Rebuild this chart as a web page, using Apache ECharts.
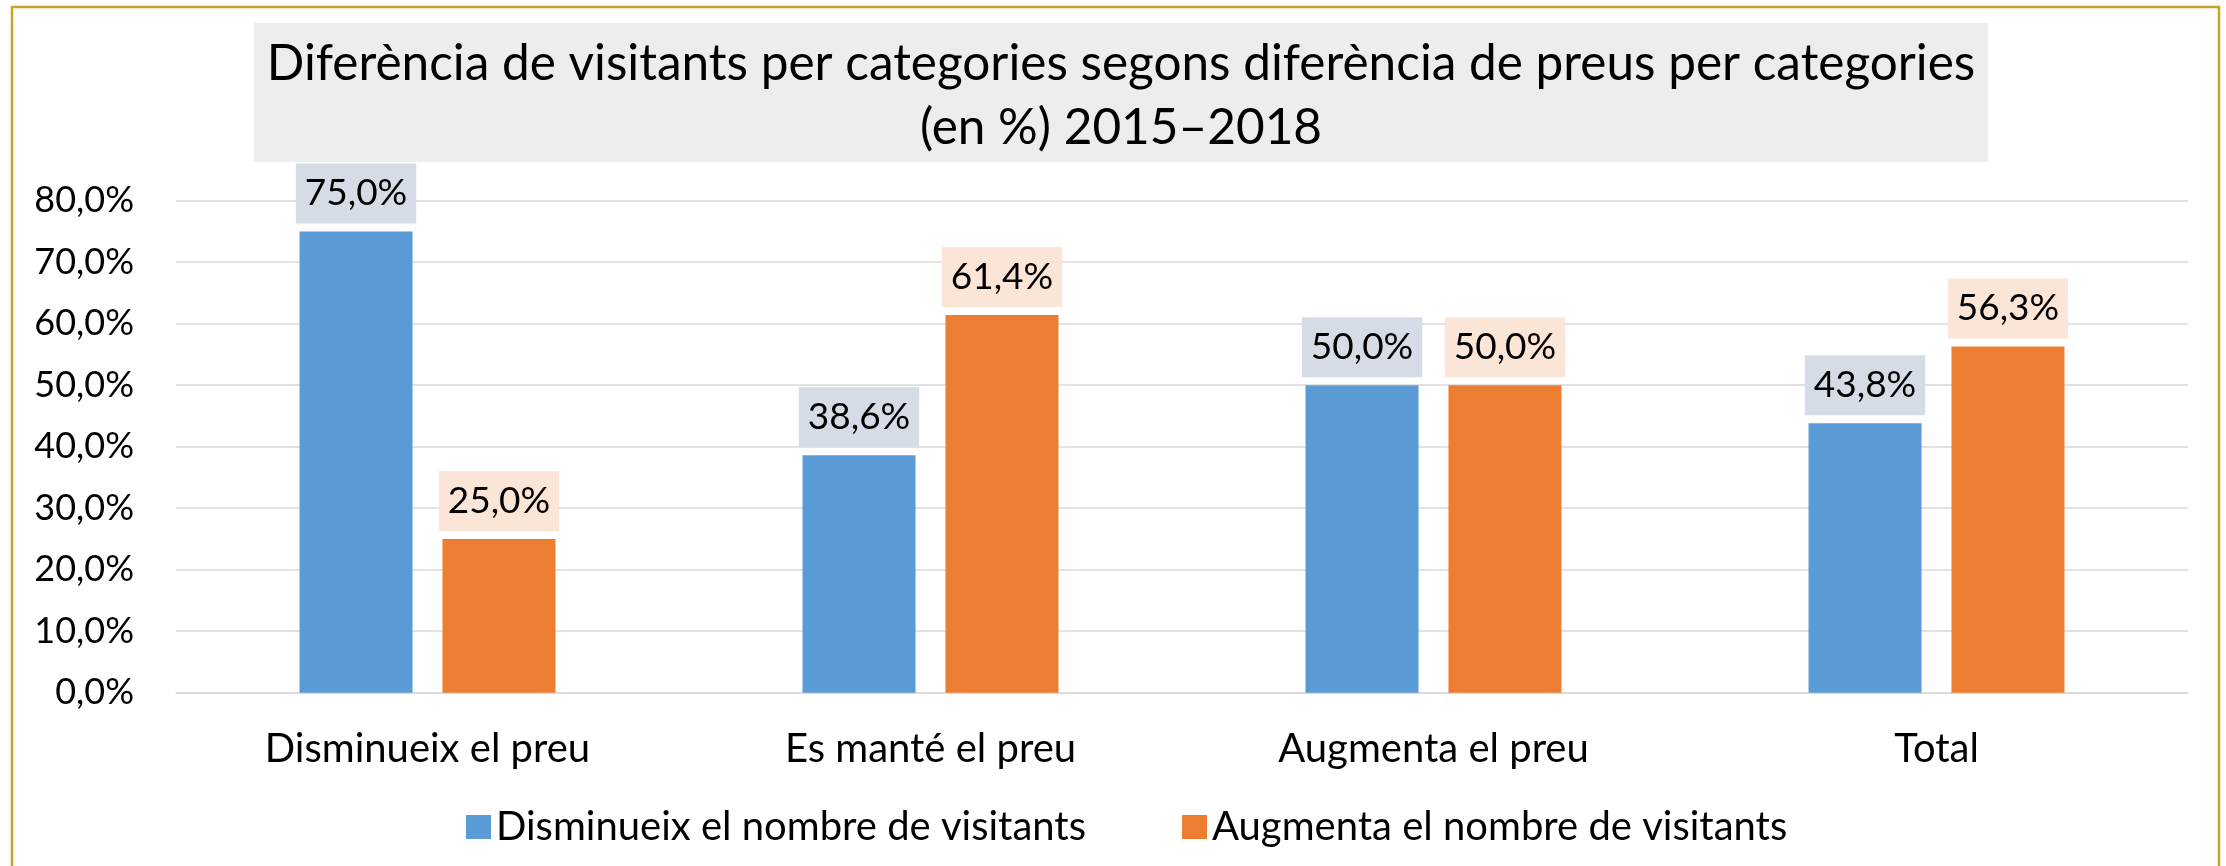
<!DOCTYPE html>
<html>
<head>
<meta charset="utf-8">
<script src="https://cdn.jsdelivr.net/npm/echarts@6/dist/echarts.min.js"></script>
<style>
    html, body { margin: 0; padding: 0; background: #fff; }
    #chart { width: 2226px; height: 866px; }
</style>
</head>
<body>
<div id="chart"></div>
<script>
    // categories and values (percent)
    var categories = ["Disminueix el preu", "Es manté el preu", "Augmenta el preu", "Total"];
    var seriesNames = ["Disminueix el nombre de visitants", "Augmenta el nombre de visitants"];
    var decreaseValues = [75.0, 38.6, 50.0, 43.8];
    var increaseValues = [25.0, 61.4, 50.0, 56.3];
    var yTicks = { min: 0, max: 80, interval: 10 };

    var font = "Lato";

    function pct(v) {
        return v.toFixed(1).replace(".", ",") + "%";
    }

    var chart = echarts.init(document.getElementById("chart"), null, { renderer: "canvas" });

    var labelBase = {
        show: true,
        position: "top",
        distance: 8,
        color: "#000",
        fontFamily: font,
        fontSize: 37,
        lineHeight: 40,
        padding: [10, 9, 10, 9],
        formatter: function (p) { return pct(p.value); }
    };

    var option = {
        animation: false,
        backgroundColor: "#fff",
        textStyle: { fontFamily: font },
        title: {
            text: "Diferència de visitants per categories segons diferència de preus per categories\n(en %) 2015–2018",
            // with textAlign center, left works as the centre of the box
            left: 1108,
            textAlign: "center",
            top: 23,
            backgroundColor: "#ededed",
            padding: [9, 13, 2, 13],
            textStyle: {
                fontFamily: font,
                fontSize: 49.5,
                lineHeight: 64,
                fontWeight: "normal",
                color: "#000"
            }
        },
        legend: {
            data: seriesNames,
            left: 461,
            top: 802,
            icon: "rect",
            itemWidth: 25,
            itemHeight: 24,
            itemGap: 96,
            textStyle: {
                fontFamily: font,
                fontSize: 40,
                lineHeight: 40,
                color: "#000"
            }
        },
        grid: {
            left: 176,
            right: 38,
            top: 200.7,
            bottom: 173.3,
            containLabel: false
        },
        xAxis: {
            type: "category",
            data: categories,
            axisLine: { show: true, lineStyle: { color: "#d9d9d9", width: 1.5 } },
            axisTick: { show: false },
            axisLabel: {
                margin: 36,
                color: "#000",
                fontFamily: font,
                fontSize: 40,
                lineHeight: 40
            }
        },
        yAxis: {
            type: "value",
            min: yTicks.min,
            max: yTicks.max,
            interval: yTicks.interval,
            axisLine: { show: false },
            axisTick: { show: false },
            splitLine: { lineStyle: { color: "#d9d9d9", width: 1.5 } },
            axisLabel: {
                margin: 42,
                color: "#000",
                fontFamily: font,
                fontSize: 36,
                formatter: function (v) { return pct(v); }
            }
        },
        series: [
            {
                name: seriesNames[0],
                type: "bar",
                data: decreaseValues,
                barWidth: 113,
                barGap: "26.5%",
                itemStyle: { color: "#5b9bd5" },
                label: Object.assign({}, labelBase, { backgroundColor: "#d6dce5" })
            },
            {
                name: seriesNames[1],
                type: "bar",
                data: increaseValues,
                barWidth: 113,
                barGap: "26.5%",
                itemStyle: { color: "#ed7d31" },
                label: Object.assign({}, labelBase, { backgroundColor: "#fbe5d6" })
            }
        ],
        graphic: [
            {
                type: "rect",
                silent: true,
                z: 100,
                shape: { x: 12, y: 7, width: 2207, height: 900 },
                style: { fill: null, stroke: "#c9a227", lineWidth: 2.5 }
            }
        ]
    };

    chart.setOption(option);
</script>
</body>
</html>
